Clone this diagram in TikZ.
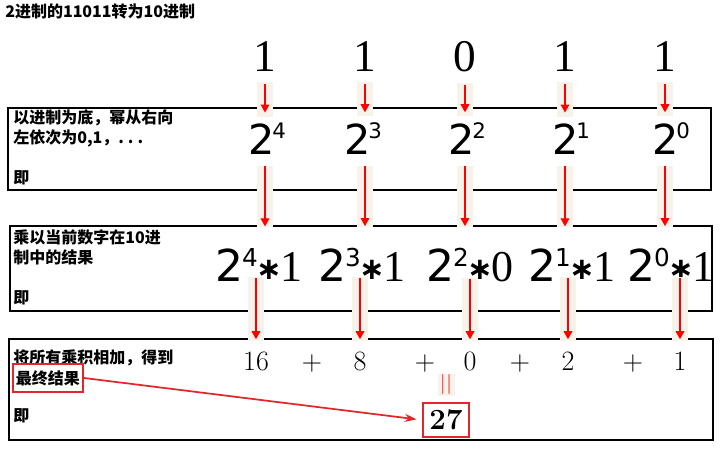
\documentclass[tikz,border=0pt]{standalone}
\usepackage{fontspec}
\usepackage{tikz}
\usetikzlibrary{arrows.meta}
\setsansfont{DejaVu Sans}
\newfontfamily\cjk{Noto Sans CJK SC}
\newfontfamily\timesf{Liberation Serif}
\definecolor{stripbg}{HTML}{F7F3EA}
\definecolor{boxred}{HTML}{E3262B}
\tikzstyle{note} = [inner sep=0pt, anchor=base west, font=\cjk\bfseries\fontsize{12}{12}\selectfont]
\tikzstyle{bit} = [inner sep=0pt, anchor=base, font=\timesf\fontsize{34}{34}\selectfont]
\tikzstyle{pow} = [inner sep=0pt, anchor=base, font=\sffamily\fontsize{31}{31}\selectfont]
\tikzstyle{prod} = [inner sep=0pt, anchor=base, font=\timesf\fontsize{33}{33}\selectfont]
\tikzstyle{sum} = [inner sep=0pt, anchor=base, font=\fontsize{21}{21}\selectfont]
\tikzstyle{frame} = [draw=black, line width=1pt]
\tikzstyle{flow} = [red, line width=0.8pt, -{Triangle[width=6.5pt,length=6pt]}]
\tikzstyle{strip} = [draw=stripbg, line width=12pt, -]
\newcommand{\pw}[1]{2\kern-1.5pt\raisebox{12.5pt}{\fontsize{16}{16}\selectfont #1}}
\newcommand{\prd}[2]{{\sffamily 2\kern-1pt\raisebox{11.5pt}{\fontsize{18.5}{18.5}\selectfont #1}}\makebox[17pt]{\raisebox{2pt}{\sffamily\bfseries\fontsize{23}{23}\selectfont ∗}}#2}

\begin{document}
\begin{tikzpicture}[x=0.75pt,y=-0.75pt]
			\useasboundingbox (0,0) rectangle (726,452);
			\node[note] (title) at (5,18) {2进制的11011转为10进制};
			\draw[frame] (8,108) rectangle (711,190);
			\draw[frame] (10,226) rectangle (712,311);
			\draw[frame] (9,339) rectangle (713,440);
			
			\node[note] (t1a) at (13,124) {以进制为底，幂从右向};
			\node[note] (t1b) at (13,144) {左依次为0,1，.\hspace{3pt}.\hspace{3pt}.};
			\node[note] (t1c) at (13,184) {即};
			\node[note] (t2a) at (13,244) {乘以当前数字在10进};
			\node[note] (t2b) at (13,264) {制中的结果};
			\node[note] (t2c) at (13,304) {即};
			\node[note] (t3a) at (13,364) {将所有乘积相加，得到};
			\node[note, anchor=center, draw=boxred, line width=1.5pt, minimum width=52.5pt, minimum height=21pt] (fin) at (48,378) {最终结果};
			\node[note] (t3c) at (13,422) {即};
			
			\foreach \x/\b [count=\i] in {265/1,365/1,465/0,565/1,665/1}
				\node[bit] (d\i) at (\x,72) {\b};
			\foreach \x/\e [count=\i] in {267/4,363/3,467/2,571/1,671/0}
				\node[pow] (p\i) at (\x,155) {\pw{\e}};
			\foreach \x/\e/\b [count=\i] in {259/4/1,362/3/1,470/2/0,572/1/1,671/0/1}
				\node[prod] (q\i) at (\x,282) {\prd{\e}{\b}};
			\foreach \x/\v [count=\i] in {256/16,360/8,470/0,568/2,680/1}
				\node[sum] (s\i) at (\x,371) {\v};
			\foreach \x [count=\i] in {312,425,520,633}
				\node[sum] (plus\i) at (\x,371) {+};
			
			\foreach \i in {1,...,5} {
				\draw[flow, shorten <=9pt, shorten >=7.5pt, preaction={strip, shorten <=7.5pt, shorten >=4.5pt}] (d\i.south) -- (d\i.south |- p\i.north);
				\draw[flow, shorten <=8.25pt, shorten >=16.5pt, preaction={strip, shorten <=8.25pt, shorten >=15.75pt}] (d\i.south |- p\i.south) -- (d\i.south |- q\i.north);
				\draw[flow, shorten <=-3pt, shorten >=9.75pt, preaction={strip, shorten <=-3.75pt, shorten >=8.25pt}] (s\i.north |- q\i.south) -- (s\i.north);
			}
			
			\node[inner sep=0pt, fill=stripbg, text=red, minimum width=12.75pt, minimum height=16.5pt, font=\fontsize{15}{15}\selectfont] (eq) at (446,385) {|\kern0.5pt|};
			\node[draw=boxred, line width=1.5pt, inner sep=0pt, minimum width=34.5pt, minimum height=25.5pt, font=\bfseries\fontsize{22}{22}\selectfont] (res) at (446,420) {27};
			\draw[boxred, line width=1.3pt, -{Stealth[length=9pt,width=6pt]}, shorten >=4pt] (fin.east) -- (res.west);
			
		\end{tikzpicture}
\end{document}
